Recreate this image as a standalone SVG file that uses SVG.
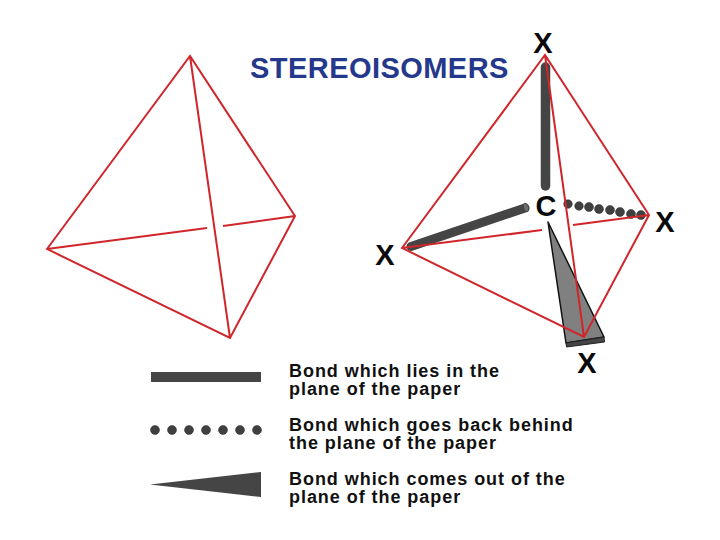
<svg xmlns="http://www.w3.org/2000/svg" width="720" height="540" viewBox="0 0 720 540">
<style>
.r{fill:none;stroke:#d0262b;stroke-width:2;stroke-linejoin:miter}
.b{stroke:#454545;stroke-linecap:round;fill:none}
.d{fill:#404040;stroke:#2a2a2a;stroke-width:.5}
.l{font-family:"Liberation Sans",Arial,sans-serif;font-weight:700;font-size:18px;letter-spacing:.95px;fill:#111}
.x{font-family:"Liberation Sans",Arial,sans-serif;font-weight:700;font-size:29px;fill:#0a0a0a;text-anchor:middle}
</style>
<rect width="720" height="540" fill="#fff"/>
<g id="title"><text x="250" y="77.500" font-family="'Liberation Sans',Arial,sans-serif" font-weight="700" font-size="29" letter-spacing=".45" fill="#24388c">STEREOISOMERS</text></g>
<g id="tetrahedron-left">
<path class="r" d="M47 249L190 56L295 216L230 338ZM190 56L230 338M47 249L207 228M223 226L295 216"/>
</g>
<g id="bonds">
<path class="b" d="M545.500 67V186" stroke-width="9.500"/>
<path class="b" d="M411 246.500L525 208" stroke-width="9"/>
<ellipse cx="526" cy="207.500" rx="2.500" ry="4.500" transform="rotate(-18 526 207.500)" fill="#6e6e6e" stroke="#3a3a3a" stroke-width=".7"/>
<g id="dots" class="d">
<circle cx="568" cy="204" r="4.300"/><circle cx="579" cy="206" r="4.300"/><circle cx="589" cy="207" r="4.500"/><circle cx="599" cy="209" r="4.500"/><circle cx="610" cy="210" r="4.500"/><circle cx="620" cy="212" r="4.500"/><circle cx="631" cy="214" r="4.500"/><circle cx="641" cy="215" r="4.500"/>
</g>
<path d="M548 222L604 337L566 343Z" fill="#808080" stroke="#111" stroke-width="1.500" stroke-linejoin="round"/>
<path d="M566 343L604 337L604.500 342L566.500 347Z" fill="#454545" stroke="#222" stroke-width="1"/>
</g>
<g id="tetrahedron-right">
<path class="r" d="M402 248L545 55L649 215L584 337ZM545 55L584 337M402 248L542 230M573 225L649 215"/>
</g>
<g id="atoms">
<text class="x" x="543" y="53">X</text>
<text class="x" x="665" y="232">X</text>
<text class="x" x="385" y="265">X</text>
<text class="x" x="587" y="373">X</text>
<text class="x" x="546" y="216">C</text>
</g>
<g id="legend-plane">
<rect x="151" y="372" width="110" height="10" fill="#454545"/>
<text class="l" x="289" y="377">Bond which lies in the</text>
<text class="l" x="289" y="395">plane of the paper</text>
</g>
<g id="legend-behind">
<g class="d"><circle cx="155" cy="430" r="4.500"/><circle cx="172" cy="430" r="4.500"/><circle cx="189" cy="430" r="4.500"/><circle cx="206" cy="430" r="4.500"/><circle cx="223" cy="430" r="4.500"/><circle cx="240" cy="430" r="4.500"/><circle cx="257" cy="430" r="4.500"/></g>
<text class="l" x="289" y="431">Bond which goes back behind</text>
<text class="l" x="289" y="449">the plane of the paper</text>
</g>
<g id="legend-front">
<path d="M150 484.500L261 472V497Z" fill="#454545"/>
<text class="l" x="289" y="485">Bond which comes out of the</text>
<text class="l" x="289" y="503">plane of the paper</text>
</g>
</svg>
